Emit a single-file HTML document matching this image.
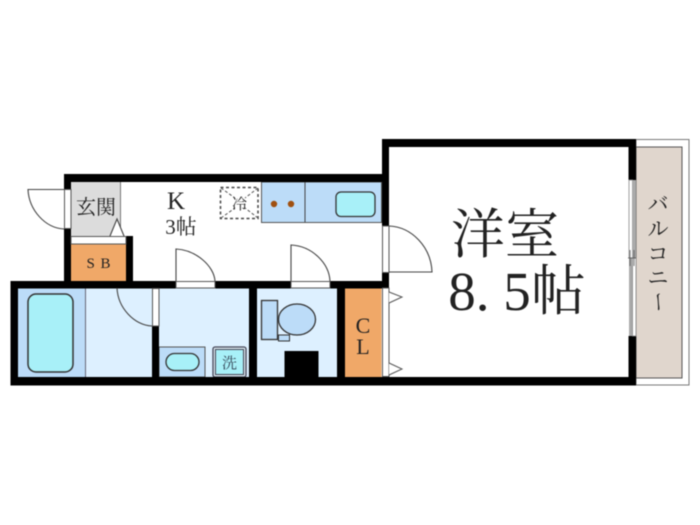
<!DOCTYPE html>
<html><head><meta charset="utf-8"><style>
html,body{margin:0;padding:0;background:#fff;width:700px;height:525px;overflow:hidden}
svg{display:block;filter:blur(0.45px)}
text{font-family:"Liberation Serif","Noto Serif CJK JP","Noto Serif CJK SC",serif;fill:#222}
</style></head><body>
<svg width="700" height="525" viewBox="0 0 700 525" xmlns="http://www.w3.org/2000/svg">
<rect width="700" height="525" fill="#fff"/>
<!-- balcony -->
<rect x="636" y="139.5" width="53" height="245.5" fill="#fff" stroke="#777" stroke-width="1"/>
<rect x="636" y="147" width="46" height="231" fill="#e0d6cd" stroke="#555" stroke-width="1"/>
<!-- floors -->
<rect x="71" y="182" width="49" height="54" fill="#dcdcdc"/>
<line x1="120.500" y1="182" x2="120.500" y2="236" stroke="#777"/>
<rect x="71" y="244" width="55" height="37" fill="#f0a868"/>
<rect x="18" y="288" width="67" height="89" fill="#bcdcf8"/>
<rect x="85" y="288" width="67" height="89" fill="#ddf0ff"/>
<line x1="85.500" y1="288" x2="85.500" y2="377" stroke="#667"/>
<rect x="159" y="288" width="90" height="89" fill="#ddf0ff"/>
<rect x="257" y="288" width="80" height="89" fill="#ddf0ff"/>
<rect x="345" y="288" width="36.500" height="89" fill="#f0a868"/>
<!-- kitchen -->
<rect x="261.500" y="182" width="120" height="40.500" fill="#bcdcf8" stroke="#555" stroke-width="1"/>
<line x1="305" y1="182" x2="305" y2="222" stroke="#444"/>
<circle cx="274" cy="204" r="3.200" fill="#a0500f"/>
<circle cx="291" cy="204" r="3.200" fill="#a0500f"/>
<rect x="336" y="192" width="39" height="24.500" rx="5" fill="#a8f0f8" stroke="#333" stroke-width="1.300"/>
<!-- fridge -->
<rect x="220.500" y="187.500" width="37.500" height="31" fill="none" stroke="#444" stroke-width="1.500" stroke-dasharray="3 2.500"/>
<path d="M221 188L235 198M258 188L245 198M221 218L235 208M258 218L245 208" stroke="#555" stroke-width="1" stroke-dasharray="3 2" fill="none"/>
<text x="239.500" y="209" font-size="15" text-anchor="middle">冷</text>
<!-- tub -->
<rect x="28" y="294" width="45" height="78" rx="8" fill="#a8f0f8" stroke="#333" stroke-width="1.500"/>
<!-- basin -->
<rect x="159" y="347" width="46" height="30" fill="#bcdcf8" stroke="#555" stroke-width="1"/>
<rect x="166" y="353.500" width="33" height="17" rx="8.500" fill="#a8f0f8" stroke="#333" stroke-width="1.300"/>
<!-- washer -->
<rect x="213" y="347" width="33" height="30" rx="2" fill="#d8e8f0" stroke="#445" stroke-width="1.300"/>
<rect x="215.500" y="349.500" width="28" height="25" fill="#a8f0f8" stroke="#445" stroke-width="1"/>
<text x="229.500" y="368" font-size="15" text-anchor="middle" style="fill:#345">洗</text>
<!-- toilet -->
<rect x="261.500" y="300.500" width="16" height="39" fill="#bcdcf8" stroke="#333" stroke-width="1.300"/>
<rect x="278.500" y="335" width="11" height="6" fill="#bcdcf8" stroke="#333" stroke-width="1"/>
<ellipse cx="297" cy="319.500" rx="18.500" ry="15.500" fill="#bcdcf8" stroke="#333" stroke-width="1.300"/>
<rect x="284.500" y="351" width="34" height="27" fill="#000"/>
<!-- walls -->
<g fill="#000">
<rect x="64" y="174" width="325" height="8"/>
<rect x="64" y="174" width="7" height="15"/>
<rect x="64" y="229" width="7" height="59"/>
<rect x="126" y="236" width="7" height="52"/>
<rect x="10.500" y="281" width="165.500" height="7.500"/>
<rect x="215" y="281" width="76" height="7.500"/>
<rect x="330" y="281" width="59" height="7.500"/>
<rect x="10.500" y="281" width="7.500" height="104.500"/>
<rect x="10.500" y="377" width="625.500" height="8.500"/>
<rect x="152" y="326" width="7" height="55"/>
<rect x="249" y="288" width="8" height="92"/>
<rect x="337" y="288" width="8" height="92"/>
<rect x="382" y="139" width="7" height="87"/>
<rect x="382" y="272.500" width="7" height="15.500"/>
<rect x="382" y="139" width="254" height="8"/>
<rect x="628.500" y="139" width="7.500" height="41"/>
<rect x="628.500" y="336" width="7.500" height="46"/>
</g>
<!-- wall openings -->
<g fill="#fff" stroke="#555" stroke-width="1">
<rect x="64.500" y="189.500" width="6.500" height="39"/>
<rect x="71" y="236.500" width="55" height="7.500"/>
<rect x="152.500" y="288.500" width="6.500" height="37.500"/>
<rect x="176" y="281.500" width="39" height="6.500"/>
<rect x="291" y="281.500" width="39" height="6.500"/>
<rect x="382.500" y="226" width="6.500" height="46.500"/>
<rect x="382.500" y="288" width="6.500" height="88.500"/>
</g>
<!-- window -->
<rect x="629" y="180" width="3.500" height="78" fill="#fff" stroke="#888" stroke-width="0.800"/>
<rect x="632.500" y="180" width="3.500" height="78" fill="#aaa"/>
<rect x="629" y="258" width="3.500" height="78" fill="#aaa"/>
<rect x="632.500" y="258" width="3.500" height="78" fill="#fff" stroke="#888" stroke-width="0.800"/>
<path d="M628 258H636M630 250V266M634 250V266" stroke="#555" stroke-width="0.800" fill="none"/>
<!-- doors -->
<g fill="none" stroke="#444" stroke-width="1.100">
<path d="M64 189.500H28C29 210 45 228 64 229"/>
<path d="M117 288C118 308 134 325 152 326"/>
<path d="M176 281V249C196 250 214 266 215 281"/>
<path d="M291 281V245C312 246 329 263 330 281"/>
<path d="M389 226C412 227 431 247 432 272H389"/>
</g>
<path d="M110 236L117 219L124 236" fill="#fff" stroke="#444" stroke-width="1.100"/>
<path d="M389 292L402 297L389 303" fill="#fff" stroke="#555" stroke-width="1"/>
<path d="M389 363L402 369L389 375" fill="#fff" stroke="#555" stroke-width="1"/>
<!-- labels -->
<text x="96" y="214" font-size="20" text-anchor="middle">玄関</text>
<text x="98.500" y="268" font-size="15" text-anchor="middle" word-spacing="2">S B</text>
<text x="176" y="209" font-size="25" text-anchor="middle">K</text>
<text x="181" y="234" font-size="21" text-anchor="middle">3帖</text>
<text x="363" y="333" font-size="22" text-anchor="middle">C</text>
<text x="363" y="354" font-size="22" text-anchor="middle">L</text>
<text x="505" y="253" font-size="54" text-anchor="middle">洋室</text>
<text x="517" y="310" font-size="55" text-anchor="middle">8. 5帖</text>
<g font-size="21" text-anchor="middle">
<text x="658" y="211">バ</text>
<text x="658" y="236">ル</text>
<text x="658" y="261">コ</text>
<text x="658" y="285">ニ</text>
<text transform="translate(658 302) rotate(90)" x="0" y="7" text-anchor="middle">ー</text>
</g>
</svg>
</body></html>
